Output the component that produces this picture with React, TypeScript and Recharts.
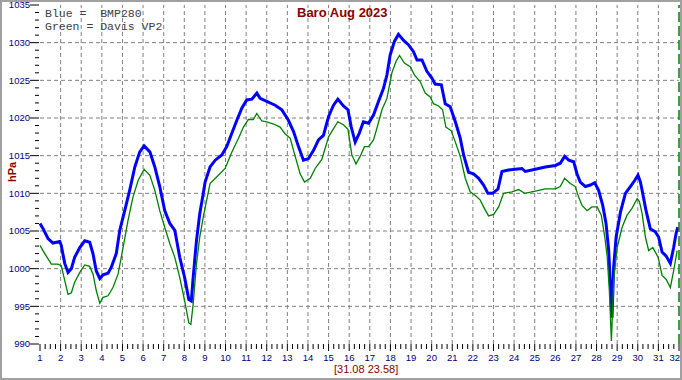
import { LineChart, Line, XAxis, YAxis, ReferenceLine } from 'recharts';

// [day of month, hPa]
const bmp280: [number, number][] = [
  [1.0, 1006.0], [1.15, 1005.3], [1.39, 1004.0], [1.63, 1003.4], [1.96, 1003.6], [2.03, 1003.1],
  [2.2, 1000.7], [2.36, 999.5], [2.52, 1000.0], [2.68, 1001.5], [2.93, 1002.8], [3.17, 1003.7],
  [3.41, 1003.5], [3.57, 1002.0], [3.73, 999.7], [3.9, 998.7], [4.06, 999.2], [4.3, 999.4],
  [4.46, 1000.2], [4.7, 1002.0], [4.87, 1005.1], [5.11, 1007.7], [5.35, 1010.4], [5.6, 1013.5],
  [5.84, 1015.5], [6.05, 1016.3], [6.33, 1015.5], [6.57, 1013.5], [6.81, 1010.9], [7.05, 1007.7],
  [7.3, 1006.0], [7.54, 1005.1], [7.78, 1001.5], [8.02, 998.8], [8.22, 995.9], [8.34, 995.7],
  [8.43, 998.8], [8.59, 1003.7], [8.75, 1007.3], [8.91, 1009.8], [9.01, 1011.5], [9.25, 1013.5],
  [9.5, 1014.4], [9.82, 1015.1], [10.06, 1016.2], [10.31, 1018.0], [10.55, 1019.7], [10.79, 1021.3],
  [11.03, 1022.4], [11.28, 1022.5], [11.52, 1023.3], [11.68, 1022.6], [12.0, 1022.2], [12.41, 1021.7],
  [12.73, 1021.1], [13.05, 1019.7], [13.3, 1018.2], [13.54, 1016.2], [13.78, 1014.4], [14.02, 1014.6],
  [14.27, 1015.7], [14.51, 1017.1], [14.75, 1017.7], [15.0, 1020.2], [15.24, 1021.7], [15.45, 1022.5],
  [15.72, 1021.6], [15.94, 1021.1], [16.1, 1018.8], [16.29, 1016.8], [16.49, 1018.0], [16.69, 1019.5],
  [16.94, 1019.3], [17.18, 1020.4], [17.42, 1022.2], [17.66, 1023.9], [17.83, 1025.7], [17.99, 1028.4],
  [18.2, 1030.2], [18.39, 1031.1], [18.64, 1030.3], [18.88, 1029.7], [19.12, 1028.8], [19.29, 1027.7],
  [19.53, 1027.7], [19.77, 1026.2], [20.01, 1025.3], [20.17, 1024.5], [20.47, 1024.4], [20.66, 1021.9],
  [20.9, 1021.5], [21.15, 1019.5], [21.39, 1017.3], [21.55, 1015.1], [21.79, 1012.8], [22.03, 1012.6],
  [22.28, 1012.0], [22.52, 1011.1], [22.73, 1010.0], [22.96, 1010.0], [23.22, 1010.6], [23.41, 1012.9],
  [23.73, 1013.1], [24.06, 1013.2], [24.38, 1013.3], [24.54, 1012.9], [25.03, 1013.2], [25.51, 1013.5],
  [26.0, 1013.7], [26.24, 1014.0], [26.45, 1014.9], [26.65, 1014.4], [26.89, 1014.2], [27.05, 1012.6],
  [27.21, 1011.5], [27.46, 1010.9], [27.7, 1011.1], [27.91, 1011.4], [28.1, 1010.4], [28.3, 1008.4],
  [28.46, 1006.0], [28.59, 1002.4], [28.67, 998.0], [28.75, 993.5], [28.83, 1000.2], [28.95, 1004.2],
  [29.16, 1007.5], [29.4, 1010.0], [29.64, 1010.9], [29.85, 1011.7], [30.01, 1012.4], [30.13, 1011.5],
  [30.24, 1010.0], [30.4, 1007.7], [30.61, 1005.3], [30.85, 1004.9], [31.01, 1004.2], [31.18, 1002.2],
  [31.37, 1001.7], [31.58, 1000.7], [31.74, 1002.8], [31.86, 1004.7], [31.94, 1005.5],
];

const davisVP2: [number, number][] = [
  [1.0, 1003.1], [1.23, 1002.0], [1.55, 1000.6], [1.87, 1000.6], [2.03, 1000.4], [2.2, 998.4],
  [2.36, 996.6], [2.52, 996.8], [2.68, 998.2], [2.93, 999.5], [3.17, 1000.5], [3.41, 1000.3],
  [3.57, 999.3], [3.73, 997.1], [3.9, 995.4], [4.06, 996.2], [4.3, 996.4], [4.54, 997.5],
  [4.79, 999.3], [5.03, 1002.8], [5.27, 1006.4], [5.51, 1009.5], [5.76, 1011.7], [6.05, 1013.2],
  [6.33, 1012.4], [6.57, 1010.4], [6.81, 1007.7], [7.05, 1005.5], [7.3, 1003.3], [7.54, 1001.5],
  [7.78, 998.8], [8.02, 995.7], [8.22, 992.8], [8.32, 992.6], [8.43, 995.3], [8.59, 1000.6],
  [8.75, 1004.2], [8.93, 1007.0], [9.25, 1011.3], [9.58, 1012.2], [9.98, 1013.3], [10.31, 1015.5],
  [10.63, 1017.3], [10.87, 1018.8], [11.11, 1019.8], [11.35, 1019.8], [11.52, 1020.6], [11.76, 1019.6],
  [12.0, 1019.5], [12.33, 1019.2], [12.65, 1018.8], [12.89, 1017.9], [13.14, 1017.3], [13.38, 1014.9],
  [13.62, 1012.6], [13.83, 1011.5], [14.11, 1012.0], [14.35, 1013.3], [14.67, 1014.5], [15.0, 1017.5],
  [15.24, 1018.6], [15.45, 1019.5], [15.72, 1019.1], [15.94, 1018.5], [16.13, 1015.1], [16.33, 1013.9],
  [16.53, 1014.9], [16.74, 1016.2], [16.94, 1016.2], [17.18, 1017.1], [17.34, 1018.6], [17.59, 1021.1],
  [17.83, 1022.6], [18.07, 1026.0], [18.27, 1027.5], [18.44, 1028.3], [18.68, 1027.3], [18.96, 1026.8],
  [19.17, 1025.7], [19.45, 1024.8], [19.69, 1023.3], [19.93, 1022.8], [20.09, 1021.9], [20.34, 1021.6],
  [20.53, 1021.1], [20.69, 1018.8], [20.95, 1018.3], [21.15, 1016.8], [21.39, 1014.9], [21.63, 1012.0],
  [21.87, 1010.2], [22.12, 1009.7], [22.36, 1009.1], [22.52, 1008.2], [22.76, 1007.0], [23.01, 1007.2],
  [23.25, 1008.2], [23.49, 1010.0], [23.9, 1010.2], [24.22, 1010.5], [24.51, 1010.0], [25.03, 1010.3],
  [25.51, 1010.6], [26.0, 1010.6], [26.24, 1010.9], [26.45, 1012.0], [26.73, 1011.3], [26.97, 1010.9],
  [27.13, 1009.5], [27.3, 1008.4], [27.54, 1007.7], [27.78, 1008.2], [28.03, 1008.2], [28.23, 1007.1],
  [28.4, 1004.2], [28.52, 1001.5], [28.62, 997.1], [28.72, 990.4], [28.83, 998.4], [29.0, 1002.8],
  [29.24, 1005.5], [29.48, 1007.1], [29.72, 1008.0], [29.97, 1009.3], [30.08, 1008.9], [30.21, 1007.3],
  [30.37, 1004.2], [30.53, 1002.4], [30.73, 1002.8], [30.99, 1001.5], [31.18, 999.1], [31.37, 998.6],
  [31.58, 997.5], [31.74, 999.7], [31.91, 1002.4],
];

const days = [1, 2, 3, 4, 5, 6, 7, 8, 9, 10, 11, 12, 13, 14, 15, 16, 17, 18, 19, 20, 21, 22, 23, 24, 25, 26, 27, 28, 29, 30, 31, 32];
const hpaLabels = [990, 995, 1000, 1005, 1010, 1015, 1020, 1025, 1030, 1035];
const lastReading = '[31.08 23.58]';
const nowDay = 32;

const xTicks = days.flatMap((d) => (d < 32 ? [d, d + 0.25, d + 0.5, d + 0.75] : [d]));
const yTicks = hpaLabels.flatMap((v) => (v < 1035 ? [v, v + 1, v + 2, v + 3, v + 4] : [v]));
const blueData = bmp280.map(([d, v]) => ({ d, v }));
const greenData = davisVP2.map(([d, v]) => ({ d, v }));

const GRID = '#808080';
const NAVY = '#000080';
const DARKRED = '#8b0000';

function YTick({ x, y, payload }: any) {
  const v = payload.value;
  const major = v % 5 === 0;
  return (
    <g>
      <line x1={major ? x - 10 : x - 5} x2={x - 1} y1={y} y2={y} stroke="#000" strokeWidth={1} />
      {major && (
        <text x={x - 10} y={y} dy={3.2} textAnchor="end" fontSize={9.5} fontFamily="Arial" fill={NAVY}>
          {v}
        </text>
      )}
    </g>
  );
}

function XTick({ x, y, payload }: any) {
  const v = payload.value;
  const major = Number.isInteger(v);
  const last = v === days[days.length - 1];
  return (
    <g>
      <line x1={x} x2={x} y1={y} y2={y + (major ? 7 : 5)} stroke="#000" strokeWidth={1} />
      {major && (
        <text
          x={last ? x + 1 : x}
          y={y + 17}
          textAnchor={last ? 'end' : 'middle'}
          fontSize={9.5}
          fontFamily="Arial"
          fill={NAVY}
        >
          {v}
        </text>
      )}
    </g>
  );
}

export default function App() {
  return (
    <div style={{ position: 'absolute', left: 0, top: 0, width: 682, height: 380, background: '#fff' }}>
      <LineChart width={682} height={380} margin={{ top: 5, right: 3, bottom: 0, left: 0 }}>
        <XAxis
          dataKey="d"
          type="number"
          domain={[1, 32]}
          ticks={xTicks}
          interval={0}
          height={36}
          axisLine={false}
          tickLine={false}
          tickSize={0}
          tickMargin={0}
          tick={<XTick />}
        />
        <YAxis
          type="number"
          domain={[990, 1035]}
          ticks={yTicks}
          interval={0}
          width={40}
          axisLine={false}
          tickLine={false}
          tickSize={0}
          tickMargin={0}
          tick={<YTick />}
        />
        {hpaLabels.slice(1, -1).map((v) => (
          <ReferenceLine key={'h' + v} y={v} stroke={GRID} strokeDasharray="4 3" />
        ))}
        {days.slice(1, -1).map((d) => (
          <ReferenceLine key={'v' + d} x={d} stroke={GRID} strokeDasharray="4 3" />
        ))}
        <Line
          data={blueData}
          dataKey="v"
          type="linear"
          stroke="#0000ff"
          strokeWidth={3}
          dot={false}
          isAnimationActive={false}
        />
        <Line
          data={greenData}
          dataKey="v"
          type="linear"
          stroke="#008000"
          strokeWidth={1.3}
          dot={false}
          isAnimationActive={false}
        />
        <ReferenceLine x={nowDay} stroke="#008000" strokeWidth={1.5} strokeDasharray="10 4" />
      </LineChart>

      <div
        style={{
          position: 'absolute',
          left: 45,
          top: 7,
          fontFamily: '"Liberation Mono", monospace',
          fontSize: 11.5,
          lineHeight: '13px',
          color: '#404040',
          whiteSpace: 'pre',
        }}
      >
        {'Blue =  BMP280\nGreen = Davis VP2'}
      </div>
      <div
        style={{
          position: 'absolute',
          left: 297,
          top: 5,
          fontFamily: 'Arial, "Liberation Sans", sans-serif',
          fontWeight: 'bold',
          fontSize: 13,
          lineHeight: '15px',
          color: DARKRED,
        }}
      >
        Baro Aug 2023
      </div>
      <div
        style={{
          position: 'absolute',
          left: 11.5,
          top: 172,
          transform: 'translate(-50%, -50%) rotate(-90deg)',
          fontFamily: 'Arial, "Liberation Sans", sans-serif',
          fontWeight: 'bold',
          fontSize: 11,
          lineHeight: '13px',
          color: DARKRED,
        }}
      >
        hPa
      </div>
      <div
        style={{
          position: 'absolute',
          left: 334,
          top: 363,
          fontFamily: 'Arial, "Liberation Sans", sans-serif',
          fontSize: 11,
          lineHeight: '13px',
          color: DARKRED,
        }}
      >
        {lastReading}
      </div>
      <div
        style={{
          position: 'absolute',
          inset: 0,
          border: '2px solid #a0a0a0',
          pointerEvents: 'none',
        }}
      />
    </div>
  );
}
